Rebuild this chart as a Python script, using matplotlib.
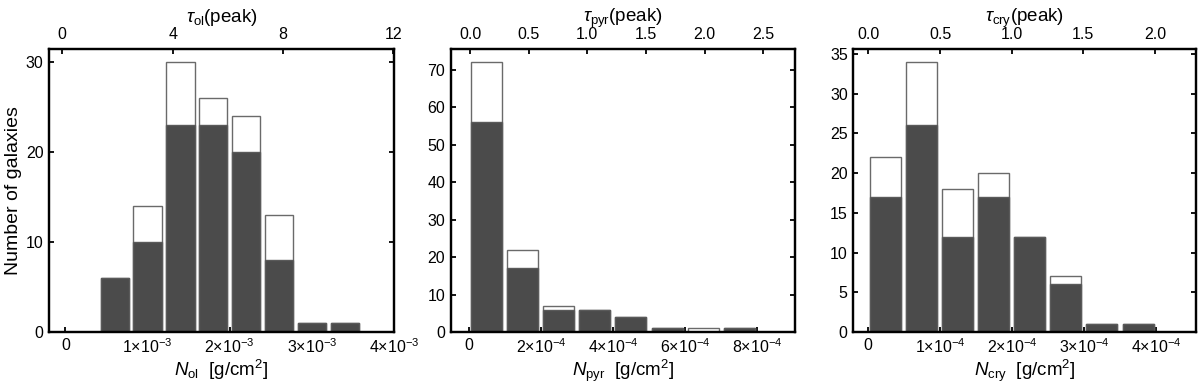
import numpy as np
import matplotlib
matplotlib.use("Agg")
import matplotlib.pyplot as plt

plt.rcParams['font.family'] = ['Liberation Sans', 'DejaVu Sans']
plt.rcParams['mathtext.fontset'] = 'custom'
plt.rcParams['mathtext.rm'] = 'Liberation Sans'
plt.rcParams['mathtext.it'] = 'Liberation Sans:italic'
plt.rcParams['mathtext.bf'] = 'Liberation Sans:bold'

# ---- data ----
ol_edges = [0.4e-3, 0.8e-3, 1.2e-3, 1.6e-3, 2.0e-3, 2.4e-3, 2.8e-3, 3.2e-3, 3.6e-3]
ol_total = [6, 14, 30, 26, 24, 13, 1, 1]
ol_detect = [6, 10, 23, 23, 20, 8, 1, 1]

pyr_edges = [0.0, 1e-4, 2e-4, 3e-4, 4e-4, 5e-4, 6e-4, 7e-4, 8e-4]
pyr_total = [72, 22, 7, 6, 4, 1, 1, 1]
pyr_detect = [56, 17, 6, 6, 4, 1, 0, 1]

cry_edges = [0.0, 0.5e-4, 1.0e-4, 1.5e-4, 2.0e-4, 2.5e-4, 3.0e-4, 3.5e-4, 4.0e-4]
cry_total = [22, 34, 18, 20, 12, 7, 1, 1]
cry_detect = [17, 26, 12, 17, 12, 6, 1, 1]

ol_xticks = [0, 1e-3, 2e-3, 3e-3, 4e-3]
ol_xticklabels = ['0', '1×10$^{-3}$', '2×10$^{-3}$', '3×10$^{-3}$', '4×10$^{-3}$']
pyr_xticks = [0, 2e-4, 4e-4, 6e-4, 8e-4]
pyr_xticklabels = ['0', '2×10$^{-4}$', '4×10$^{-4}$', '6×10$^{-4}$', '8×10$^{-4}$']
cry_xticks = [0, 1e-4, 2e-4, 3e-4, 4e-4]
cry_xticklabels = ['0', '1×10$^{-4}$', '2×10$^{-4}$', '3×10$^{-4}$', '4×10$^{-4}$']

ol_tau_ticks = [0, 4, 8, 12]
ol_tau_labels = ['0', '4', '8', '12']
pyr_tau_ticks = [0.0, 0.5, 1.0, 1.5, 2.0, 2.5]
pyr_tau_labels = ['0.0', '0.5', '1.0', '1.5', '2.0', '2.5']
cry_tau_ticks = [0.0, 0.5, 1.0, 1.5, 2.0]
cry_tau_labels = ['0.0', '0.5', '1.0', '1.5', '2.0']

panels = [
    dict(edges=ol_edges, total=ol_total, det=ol_detect,
         xticks=ol_xticks, xlabels=ol_xticklabels, xlim=(-0.2e-3, 4.0e-3),
         tticks=ol_tau_ticks, tlabels=ol_tau_labels, tlim=(-0.48, 12.02),
         yticks=[0, 10, 20, 30], ylim=(0, 31.4),
         xlabel=r'$N_{\rm ol}$  [g/cm$^{2}$]', tlabel=r'$\tau_{\rm ol}$(peak)',
         pos=[49/1200, 1-332/384, 345/1200, 283/384]),
    dict(edges=pyr_edges, total=pyr_total, det=pyr_detect,
         xticks=pyr_xticks, xlabels=pyr_xticklabels, xlim=(-0.5e-4, 9.05e-4),
         tticks=pyr_tau_ticks, tlabels=pyr_tau_labels, tlim=(-0.165, 2.77),
         yticks=[0, 10, 20, 30, 40, 50, 60, 70], ylim=(0, 75.6),
         xlabel=r'$N_{\rm pyr}$  [g/cm$^{2}$]', tlabel=r'$\tau_{\rm pyr}$(peak)',
         pos=[450.7/1200, 1-332/384, 344.3/1200, 283/384]),
    dict(edges=cry_edges, total=cry_total, det=cry_detect,
         xticks=cry_xticks, xlabels=cry_xticklabels, xlim=(-0.2e-4, 4.55e-4),
         tticks=cry_tau_ticks, tlabels=cry_tau_labels, tlim=(-0.105, 2.284),
         yticks=[0, 5, 10, 15, 20, 25, 30, 35], ylim=(0, 35.6),
         xlabel=r'$N_{\rm cry}$  [g/cm$^{2}$]', tlabel=r'$\tau_{\rm cry}$(peak)',
         pos=[853.3/1200, 1-332/384, 342.4/1200, 283/384]),
]

fig = plt.figure(figsize=(12, 3.84), dpi=100)

for i, p in enumerate(panels):
    ax = fig.add_axes(p['pos'])
    edges = np.array(p['edges'])
    centers = 0.5 * (edges[:-1] + edges[1:])
    ax.hist(centers, bins=edges, weights=p['total'], rwidth=0.86,
            facecolor='white', edgecolor='#6a6a6a', linewidth=1.0, zorder=2)
    ax.hist(centers, bins=edges, weights=p['det'], rwidth=0.86,
            facecolor='#4b4b4b', edgecolor='#5a5a5a', linewidth=1.0, zorder=3)
    ax.set_xlim(*p['xlim'])
    ax.set_ylim(*p['ylim'])
    ax.set_xticks(p['xticks'])
    ax.set_xticklabels(p['xlabels'])
    ax.set_yticks(p['yticks'])
    ax.tick_params(axis='x', which='both', direction='in', top=False, bottom=True,
                   length=3.5, width=1.3, labelsize=11.5, pad=4)
    ax.tick_params(axis='y', which='both', direction='in', left=True, right=True,
                   length=3.5, width=1.3, labelsize=11.5, pad=4)
    for s in ax.spines.values():
        s.set_linewidth(1.6)
        s.set_zorder(6)
    ax.set_xlabel(p['xlabel'], fontsize=13.5, labelpad=1)
    if i == 0:
        ax.set_ylabel('Number of galaxies', fontsize=14, labelpad=3)

    tax = ax.twiny()
    tax.set_xlim(*p['tlim'])
    tax.set_xticks(p['tticks'])
    tax.set_xticklabels(p['tlabels'])
    tax.tick_params(axis='x', direction='in', length=3.5, width=1.3,
                    labelsize=11.5, pad=5)
    for s in tax.spines.values():
        s.set_linewidth(1.6)
    tax.set_xlabel(p['tlabel'], fontsize=13.5, labelpad=4)

fig.savefig('out.png', dpi=100)
